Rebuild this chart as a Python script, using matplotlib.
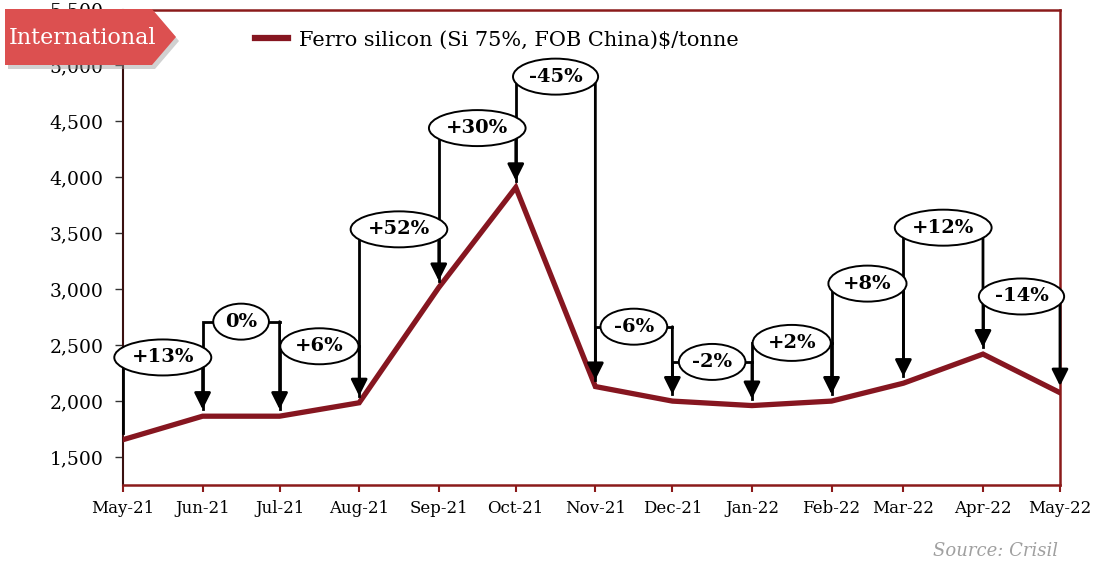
import numpy as np
import matplotlib
matplotlib.use("Agg")
import matplotlib.pyplot as plt
import matplotlib.dates as mdates
from matplotlib.path import Path
from matplotlib.patches import Polygon
import datetime as dt

# ---- data ----
months = ["2021-05", "2021-06", "2021-07", "2021-08", "2021-09", "2021-10", "2021-11",
          "2021-12", "2022-01", "2022-02", "2022-03", "2022-04", "2022-05"]
price = [1655, 1865, 1865, 1985, 3015, 3910, 2130, 2000, 1960, 2000, 2160, 2420, 2075]
pct_labels = ["+13%", "0%", "+6%", "+52%", "+30%", "-45%", "-6%", "-2%", "+2%",
              "+8%", "+12%", "-14%"]
bracket_top = [2390, 2710, 2490, 3535, 4440, 4900, 2665, 2350, 2520, 3050, 3550, 2935]

dates = [dt.datetime.strptime(m, "%Y-%m") for m in months]
xnum = mdates.date2num(dates)

plt.rcParams['font.family'] = ['DejaVu Serif']

maroon = '#861620'
frame = '#8b1a1a'

fig = plt.figure(figsize=(10.96, 5.61), dpi=100)
ax = fig.add_axes([123/1096, 1-485/561, (1060-123)/1096, (485-9.5)/561])

ax.plot(xnum, price, color=maroon, lw=3.8, zorder=3, solid_joinstyle='miter',
        label="Ferro silicon (Si 75%, FOB China)\\$/tonne")


def ellipse_box(x0, y0, width, height, mutation_size):
    # ellipse drawn round the text box
    cx, cy = x0 + width/2, y0 + height/2
    rx = width*0.68 + 6
    ry = height*0.75 + 4.5
    c = Path.unit_circle()
    return Path(c.vertices*[rx, ry] + [cx, cy], c.codes)


# brackets with arrows
for i in range(len(pct_labels)):
    x0, x1 = xnum[i], xnum[i+1]
    top = bracket_top[i]
    ax.plot([x0, x0, x1], [price[i] + 60, top, top], color='black', lw=2,
            zorder=4, clip_on=False, solid_joinstyle='miter')
    ax.annotate('', xy=(x1, price[i+1] + 60), xytext=(x1, top),
                arrowprops=dict(arrowstyle='-|>,head_length=1.0,head_width=0.5',
                                mutation_scale=10, lw=2, color='black',
                                shrinkA=0, shrinkB=0),
                zorder=4, annotation_clip=False)
    ax.text((x0 + x1)/2, top, pct_labels[i], ha='center', va='center',
            fontsize=14, fontweight='bold', zorder=6, clip_on=False,
            bbox=dict(boxstyle=ellipse_box, fc='white', ec='black', lw=1.4))

ax.set_ylim(1250, 5500)
ax.set_yticks(np.arange(1500, 5501, 500))
ax.yaxis.set_major_formatter(matplotlib.ticker.StrMethodFormatter('{x:,.0f}'))
ax.set_xlim(xnum[0], xnum[-1])
ax.set_xticks(xnum)
ax.set_xticklabels([d.strftime('%b-%y') for d in dates])

ax.tick_params(axis='y', labelsize=13.5, length=6, width=1, color='#333333', pad=8)
ax.tick_params(axis='x', labelsize=12, length=5, width=1.5, color=frame, pad=6)

for s in ['top', 'right', 'bottom']:
    ax.spines[s].set_color(frame)
    ax.spines[s].set_linewidth(1.8)
ax.spines['left'].set_color('#3a1010')
ax.spines['left'].set_linewidth(1.5)

leg = ax.legend(loc='center left', bbox_to_anchor=((255-123)/937, (485-40)/475.5),
                frameon=False, fontsize=15, handlelength=1.6, handletextpad=0.5,
                borderaxespad=0, borderpad=0)
for h in leg.get_lines():
    h.set_linewidth(4.5)

# "International" tag
def px(x, y):
    return (x/1096, 1 - y/561)

tag = [px(5, 9), px(152, 9), px(176, 37), px(152, 65), px(5, 65)]
shadow = [(a + 3/1096, b - 4/561) for a, b in tag]
fig.patches.append(Polygon(shadow, closed=True, transform=fig.transFigure,
                           fc='#999999', ec='none', alpha=0.45, zorder=8))
fig.patches.append(Polygon(tag, closed=True, transform=fig.transFigure,
                           fc='#dc5050', ec='none', zorder=9))
fig.text(83/1096, 1 - 38/561, "International", color='white', fontsize=16,
         ha='center', va='center', zorder=10)

fig.text(1058/1096, 1 - 551/561, "Source: Crisil", color='#a0a0a0', fontsize=13,
         style='italic', ha='right', va='center')

fig.savefig("out.png", dpi=100)
